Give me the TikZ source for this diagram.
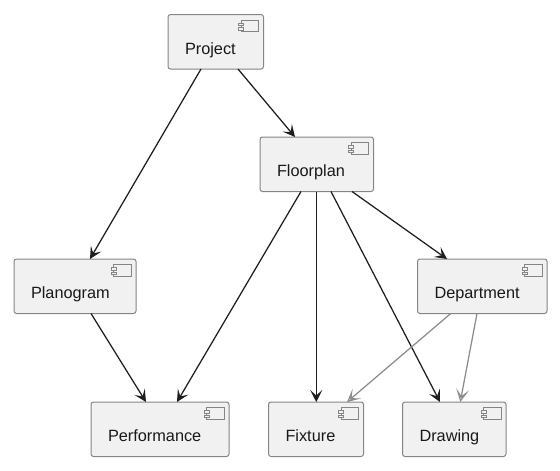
\documentclass[tikz,border=0pt]{standalone}
\usepackage{fontspec}
\setmainfont{Liberation Sans}
\usetikzlibrary{arrows.meta,calc}
\definecolor{boxfill}{HTML}{F1F1F1}
\definecolor{boxline}{HTML}{858585}
\definecolor{inkline}{HTML}{1E1E1E}
\definecolor{softline}{HTML}{8C8C8C}
\newcommand{\boxtext}[1]{\raisebox{-12.6pt}[0pt][0pt]{#1}}
\tikzset{
  compbox/.style={draw=boxline,fill=boxfill,line width=1pt,rounded corners=2.5pt,outer sep=0pt,
    minimum height=54.5pt,inner xsep=17pt,inner ysep=0pt,font=\fontsize{16.3pt}{18pt}\selectfont,
    text=black!90,anchor=north west,align=left,
    path picture={
      \draw[boxline,line width=0.7pt,rounded corners=0pt,fill=none]
        ([xshift=-22.5pt,yshift=-5.5pt]path picture bounding box.north east) rectangle ++(17.5pt,-11.5pt);
      \draw[boxline,line width=0.7pt,rounded corners=0pt,fill=boxfill]
        ([xshift=-25pt,yshift=-8.5pt]path picture bounding box.north east) rectangle ++(5pt,-2.6pt);
      \draw[boxline,line width=0.7pt,rounded corners=0pt,fill=boxfill]
        ([xshift=-25pt,yshift=-13pt]path picture bounding box.north east) rectangle ++(5pt,-2.6pt);
    }},
  flowmain/.style={draw=inkline,line width=1.25pt,-{Stealth[length=12pt,width=12pt,inset=5.5pt]}},
  flowsoft/.style={draw=softline,line width=1.25pt,-{Stealth[length=13pt,width=13pt,inset=7pt,open]}},
}
\begin{document}
\begin{tikzpicture}[x=1pt,y=-1pt]
\useasboundingbox (0,0) rectangle (560,471);
\node[compbox,text width=61.5pt] (project) at (168,14.5) {\boxtext{Project}};
\node[compbox,text width=79.5pt] (floorplan) at (260,137) {\boxtext{Floorplan}};
\node[compbox,text width=88pt] (planogram) at (14,259) {\boxtext{Planogram}};
\node[compbox,text width=95.5pt] (department) at (417.5,259) {\boxtext{Department}};
\node[compbox,text width=104pt] (performance) at (91,402) {\boxtext{Performance}};
\node[compbox,text width=61pt] (fixture) at (268.5,402) {\boxtext{Fixture}};
\node[compbox,text width=69.5pt] (drawing) at (402.5,402) {\boxtext{Drawing}};
\draw[flowmain] ([xshift=-14.75pt]project.south) -- ([xshift=15pt]planogram.north);
\draw[flowmain] ([xshift=22.25pt]project.south) -- ([xshift=-21.75pt]floorplan.north);
\draw[flowmain] ([xshift=-15.75pt]floorplan.south) -- ([xshift=17pt]performance.north);
\draw[flowmain] ([xshift=-0.5pt]floorplan.south) -- ([xshift=0.25pt]fixture.north);
\draw[flowmain] ([xshift=14.25pt]floorplan.south) -- ([xshift=-14.25pt]drawing.north);
\draw[flowmain] ([xshift=35.25pt]floorplan.south) -- ([xshift=-35.25pt]department.north);
\draw[flowmain] ([xshift=16pt]planogram.south) -- ([xshift=-14pt]performance.north);
\draw[flowsoft] ([xshift=-31.5pt]department.south) -- ([xshift=31pt]fixture.north);
\draw[flowsoft] ([xshift=-5.25pt]department.south) -- ([xshift=6pt]drawing.north);
\end{tikzpicture}
\end{document}
